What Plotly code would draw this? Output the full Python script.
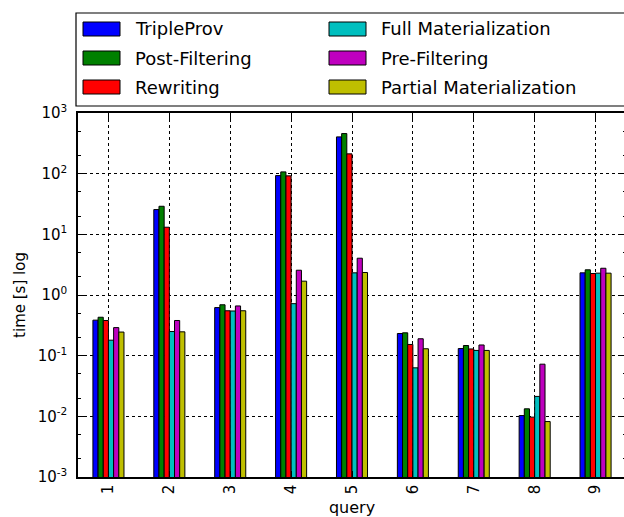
import plotly.graph_objects as go

# ---- data ----
queries = ["1", "2", "3", "4", "5", "6", "7", "8", "9"]
series_names = ["TripleProv", "Post-Filtering", "Rewriting",
                "Full Materialization", "Pre-Filtering", "Partial Materialization"]
series_colors = ["#0000ff", "#008000", "#ff0000", "#00bfbf", "#bf00bf", "#bfbf00"]

triple_prov = [0.385, 25.6, 0.62, 93, 404, 0.232, 0.131, 0.0103, 2.32]
post_filtering = [0.43, 29, 0.69, 107, 458, 0.238, 0.147, 0.0133, 2.6]
rewriting = [0.38, 13.1, 0.55, 92, 212, 0.153, 0.129, 0.0097, 2.26]
full_materialization = [0.18, 0.25, 0.545, 0.72, 2.32, 0.063, 0.122, 0.0213, 2.29]
pre_filtering = [0.29, 0.38, 0.66, 2.56, 4.04, 0.19, 0.15, 0.0724, 2.76]
partial_materialization = [0.245, 0.247, 0.55, 1.69, 2.35, 0.13, 0.122, 0.0082, 2.29]

series_values = [triple_prov, post_filtering, rewriting,
                 full_materialization, pre_filtering, partial_materialization]

y_tick_exps = [-3, -2, -1, 0, 1, 2, 3]

# ---- figure geometry (pixels) ----
# figure is 2px wider than the window: the right spine sits at the edge
W, H = 626, 517
L, R, T, B = 78, 0, 113, 40
PW, PH = W - L - R, H - T - B

def px(x):
    return (x - L) / PW

def py(y):
    return (H - B - y) / PH

FONT = "DejaVu Sans"
xpos = list(range(1, len(queries) + 1))

fig = go.Figure()
for name, color, vals in zip(series_names, series_colors, series_values):
    fig.add_trace(go.Bar(
        x=xpos, y=vals, name=name, showlegend=False,
        marker=dict(color=color, line=dict(color="black", width=1)),
    ))

# ---- manual legend (matplotlib style, box runs off the right edge) ----
shapes = [dict(type="rect", xref="paper", yref="paper",
               x0=px(76), x1=px(640), y0=py(106), y1=py(13),
               line=dict(color="black", width=1.2), fillcolor="white", layer="above")]
annotations = []
col_sw = [83, 329]
col_tx = [133, 379]
row_y = [29, 58, 87]
for i, (name, color) in enumerate(zip(series_names, series_colors)):
    c, r = i // 3, i % 3
    shapes.append(dict(type="rect", xref="paper", yref="paper",
                       x0=px(col_sw[c]), x1=px(col_sw[c] + 37),
                       y0=py(row_y[r] + 7), y1=py(row_y[r] - 7),
                       line=dict(color="black", width=1), fillcolor=color, layer="above"))
    annotations.append(dict(xref="paper", yref="paper", x=px(col_tx[c]), y=py(row_y[r]),
                            text=name, showarrow=False, xanchor="left", yanchor="middle",
                            font=dict(family=FONT, size=18, color="black")))

fig.update_layout(
    width=W, height=H,
    margin=dict(l=L, r=R, t=T, b=B),
    paper_bgcolor="white", plot_bgcolor="white",
    barmode="group", bargap=0.49, bargroupgap=0,
    font=dict(family=FONT, size=15, color="black"),
    shapes=shapes, annotations=annotations,
    showlegend=False,
)
fig.update_xaxes(
    automargin=False,
    range=[0.5, len(queries) + 0.5],
    tickvals=xpos, ticktext=queries, tickangle=-90,
    ticks="inside", ticklen=6, tickcolor="black",
    showline=True, linecolor="black", linewidth=1.5, mirror="allticks",
    showgrid=True, gridcolor="black", griddash="dot", gridwidth=1,
    zeroline=False,
    title=dict(text="query", font=dict(family=FONT, size=16), standoff=9),
    tickfont=dict(family=FONT, size=15),
)
fig.update_yaxes(
    automargin=False,
    type="log", range=[-3, 3],
    tickvals=[10 ** e for e in y_tick_exps],
    ticktext=["10<sup>%d</sup>" % e for e in y_tick_exps],
    ticks="inside", ticklen=7, tickcolor="black",
    ticklabelstandoff=6,
    minor=dict(ticks="inside", ticklen=3, tickcolor="black", showgrid=False),
    showline=True, linecolor="black", linewidth=1.5, mirror="allticks",
    showgrid=True, gridcolor="black", griddash="dot", gridwidth=1,
    zeroline=False,
    title=dict(text="time [s] log", font=dict(family=FONT, size=15), standoff=8),
    tickfont=dict(family=FONT, size=15),
)

fig.write_html(
    "out.html",
    config={"displayModeBar": False},
    post_script="document.body.style.margin='0';document.body.style.overflow='hidden';",
)
